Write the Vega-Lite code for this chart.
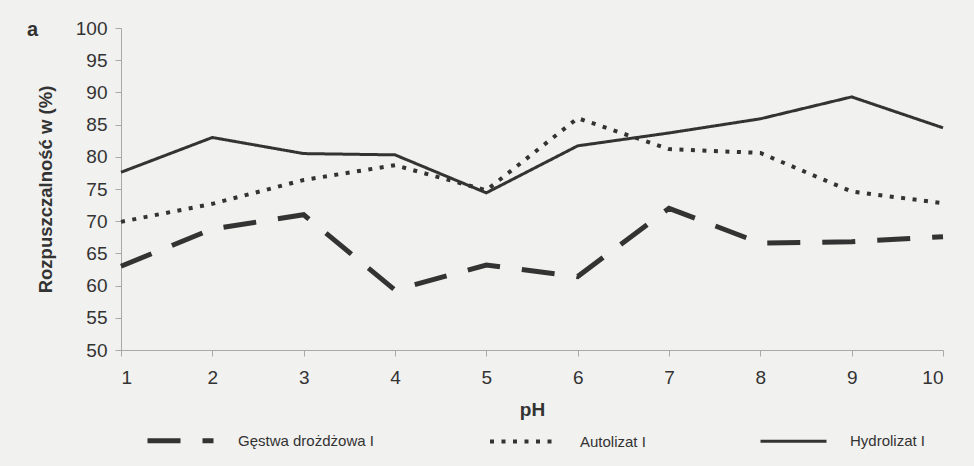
{
  "$schema": "https://vega.github.io/schema/vega-lite/v6.json",
  "autosize": {"type": "none"},
  "width": 822,
  "height": 322,
  "padding": {"left": 121, "top": 28, "right": 31, "bottom": 116},
  "background": "#f1f1ef",
  "title": {
    "text": "a",
    "anchor": "start",
    "frame": "group",
    "orient": "top",
    "font": "Liberation Sans",
    "fontSize": 20,
    "fontWeight": "bold",
    "color": "#333333",
    "dx": -94,
    "dy": 21,
    "offset": 0
  },
  "data": {
    "values": [
      {"pH": 1, "series": "Gęstwa drożdżowa I", "value": 63.0},
      {"pH": 2, "series": "Gęstwa drożdżowa I", "value": 68.8},
      {"pH": 3, "series": "Gęstwa drożdżowa I", "value": 71.0},
      {"pH": 4, "series": "Gęstwa drożdżowa I", "value": 59.3},
      {"pH": 5, "series": "Gęstwa drożdżowa I", "value": 63.2},
      {"pH": 6, "series": "Gęstwa drożdżowa I", "value": 61.4},
      {"pH": 7, "series": "Gęstwa drożdżowa I", "value": 72.0},
      {"pH": 8, "series": "Gęstwa drożdżowa I", "value": 66.6},
      {"pH": 9, "series": "Gęstwa drożdżowa I", "value": 66.8},
      {"pH": 10, "series": "Gęstwa drożdżowa I", "value": 67.6},
      {"pH": 1, "series": "Autolizat I", "value": 69.9},
      {"pH": 2, "series": "Autolizat I", "value": 72.7},
      {"pH": 3, "series": "Autolizat I", "value": 76.4},
      {"pH": 4, "series": "Autolizat I", "value": 78.7},
      {"pH": 5, "series": "Autolizat I", "value": 74.8},
      {"pH": 6, "series": "Autolizat I", "value": 86.0},
      {"pH": 7, "series": "Autolizat I", "value": 81.2},
      {"pH": 8, "series": "Autolizat I", "value": 80.6},
      {"pH": 9, "series": "Autolizat I", "value": 74.6},
      {"pH": 10, "series": "Autolizat I", "value": 72.8},
      {"pH": 1, "series": "Hydrolizat I", "value": 77.6},
      {"pH": 2, "series": "Hydrolizat I", "value": 83.0},
      {"pH": 3, "series": "Hydrolizat I", "value": 80.5},
      {"pH": 4, "series": "Hydrolizat I", "value": 80.3},
      {"pH": 5, "series": "Hydrolizat I", "value": 74.4},
      {"pH": 6, "series": "Hydrolizat I", "value": 81.7},
      {"pH": 7, "series": "Hydrolizat I", "value": 83.7},
      {"pH": 8, "series": "Hydrolizat I", "value": 85.9},
      {"pH": 9, "series": "Hydrolizat I", "value": 89.3},
      {"pH": 10, "series": "Hydrolizat I", "value": 84.5}
    ]
  },
  "mark": {"type": "line", "color": "#333333", "strokeCap": "butt"},
  "encoding": {
    "x": {
      "field": "pH",
      "type": "quantitative",
      "scale": {"domain": [1, 10], "nice": false, "zero": false},
      "axis": {
        "values": [1, 2, 3, 4, 5, 6, 7, 8, 9, 10],
        "title": "pH",
        "grid": false,
        "domainColor": "#a8a8a8",
        "tickColor": "#a8a8a8",
        "tickSize": 6,
        "labelPadding": 12,
        "labelFont": "Liberation Sans",
        "labelFontSize": 19,
        "labelColor": "#333333",
        "titleFont": "Liberation Sans",
        "titleFontSize": 19,
        "titleFontWeight": "bold",
        "titleColor": "#333333",
        "titlePadding": 13
      }
    },
    "y": {
      "field": "value",
      "type": "quantitative",
      "scale": {"domain": [50, 100], "nice": false, "zero": false},
      "axis": {
        "values": [50, 55, 60, 65, 70, 75, 80, 85, 90, 95, 100],
        "title": "Rozpuszczalność w (%)",
        "grid": false,
        "domainColor": "#a8a8a8",
        "tickColor": "#a8a8a8",
        "tickSize": 6,
        "labelPadding": 8,
        "labelFont": "Liberation Sans",
        "labelFontSize": 19,
        "labelColor": "#333333",
        "titleFont": "Liberation Sans",
        "titleFontSize": 18.5,
        "titleFontWeight": "bold",
        "titleColor": "#333333",
        "titlePadding": 20
      }
    },
    "strokeDash": {
      "field": "series",
      "type": "nominal",
      "scale": {
        "domain": ["Gęstwa drożdżowa I", "Autolizat I", "Hydrolizat I"],
        "range": [[33, 22], [4, 7.5], [1, 0]]
      },
      "legend": {
        "title": null,
        "orient": "none",
        "direction": "horizontal",
        "legendX": 24,
        "legendY": 377,
        "symbolType": "stroke",
        "symbolSize": 4356,
        "symbolStrokeColor": "#333333",
        "labelFont": "Liberation Sans",
        "labelFontSize": 15,
        "labelColor": "#333333",
        "labelOffset": 22,
        "columnPadding": 108,
        "padding": 0
      }
    },
    "strokeWidth": {
      "field": "series",
      "type": "nominal",
      "scale": {
        "domain": ["Gęstwa drożdżowa I", "Autolizat I", "Hydrolizat I"],
        "range": [5, 3, 1.6]
      },
      "legend": null
    }
  },
  "config": {"view": {"stroke": null}}
}
